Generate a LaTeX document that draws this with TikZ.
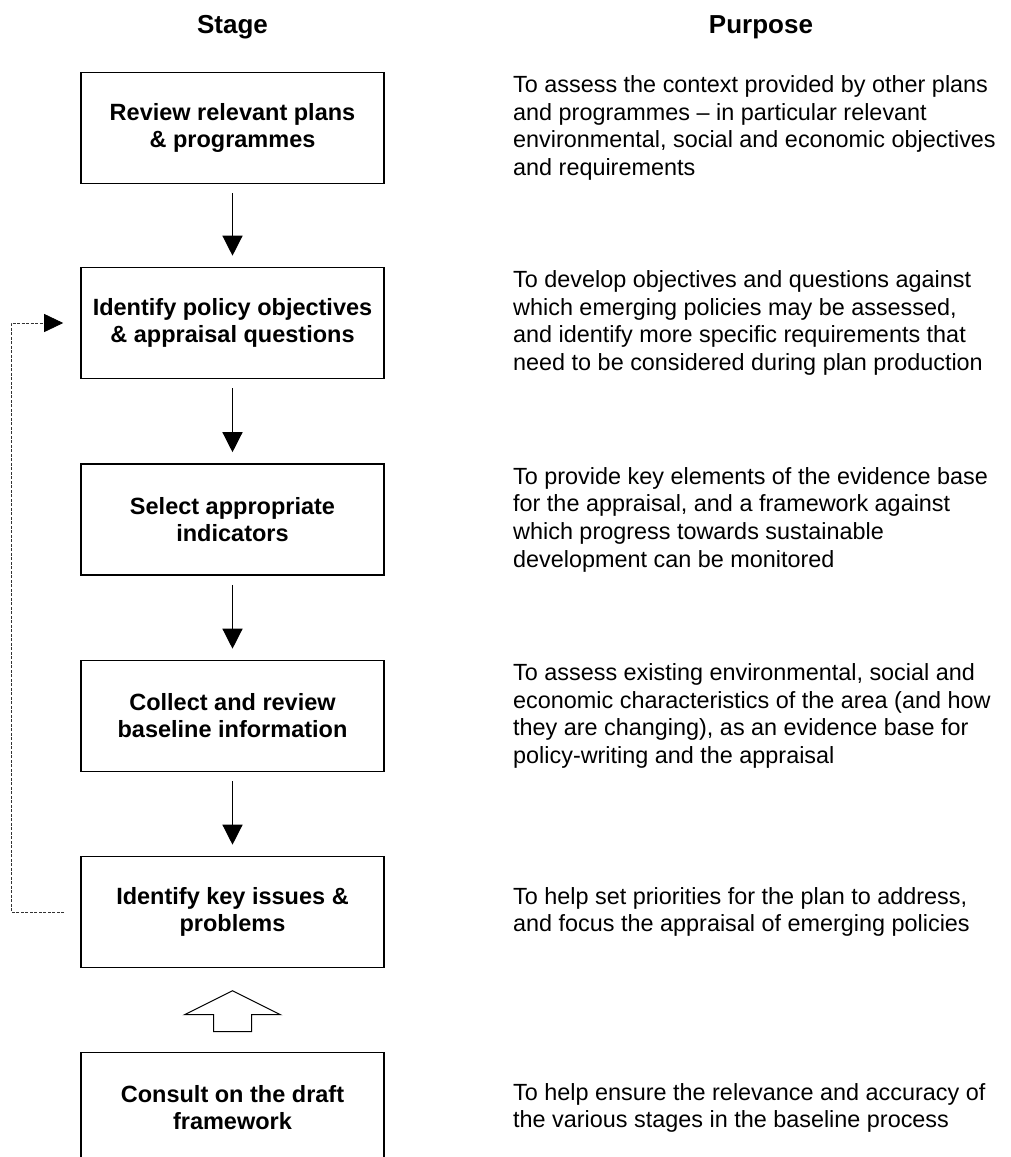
\documentclass[tikz,border=0pt]{standalone}
\usepackage{fontspec}
\setmainfont{Liberation Sans}
\usetikzlibrary{arrows.meta}

\begin{document}
\begin{tikzpicture}[x=1pt,y=1pt]
  \tikzset{
    stagebox/.style={draw,line width=1.6pt,minimum width=303pt,minimum height=111pt,
      align=center,inner sep=0pt,font=\bfseries\fontsize{23.5}{27}\selectfont},
    purpose/.style={anchor=west,align=left,inner sep=0pt,font=\fontsize{23.4}{27.7}\selectfont},
    heading/.style={font=\bfseries\fontsize{26}{30}\selectfont},
    flowstep/.style={-{Triangle[width=20pt,length=20pt]},line width=1.3pt,shorten <=9pt,shorten >=11pt},
    feedback/.style={-{Triangle[width=18pt,length=19pt,color=black]},line width=0.8pt,
      dash pattern=on 3pt off 1.5pt,black!80},
    openarrow/.style={line width=1pt,line join=miter},
  }
  \useasboundingbox (0,0) rectangle (1010,-1157);
  % column headings
  \node[heading] (stagehead)   at (232.5,-27) {Stage};
  \node[heading] (purposehead) at (761,-27)   {Purpose};
  % stages
  \node[stagebox] (review)     at (232.5,-128)  {Review relevant plans\\\& programmes};
  \node[stagebox] (objectives) at (232.5,-323)  {Identify policy objectives\\\& appraisal questions};
  \node[stagebox] (indicators) at (232.5,-519.5){Select appropriate\\indicators};
  \node[stagebox] (baseline)   at (232.5,-716)  {Collect and review\\baseline information};
  \node[stagebox] (issues)     at (232.5,-912)  {Identify key issues \&\\problems};
  \node[stagebox] (consult)    at (232.5,-1108) {Consult on the draft\\framework};
  % purposes
  \node[purpose] (p1) at (513,-128)   {To assess the context provided by other plans\\and programmes -- in particular relevant\\environmental, social and economic objectives\\and requirements};
  \node[purpose] (p2) at (513,-323)   {To develop objectives and questions against\\which emerging policies may be assessed,\\and identify more specific requirements that\\need to be considered during plan production};
  \node[purpose] (p3) at (513,-519.5) {To provide key elements of the evidence base\\for the appraisal, and a framework against\\which progress towards sustainable\\development can be monitored};
  \node[purpose] (p4) at (513,-716)   {To assess existing environmental, social and\\economic characteristics of the area (and how\\they are changing), as an evidence base for\\policy-writing and the appraisal};
  \node[purpose] (p5) at (513,-912)   {To help set priorities for the plan to address,\\and focus the appraisal of emerging policies};
  \node[purpose] (p6) at (513,-1108)  {To help ensure the relevance and accuracy of\\the various stages in the baseline process};
  % flow
  \draw[flowstep] (review)     edge (objectives);
  \draw[flowstep] (objectives) edge (indicators);
  \draw[flowstep] (indicators) edge (baseline);
  \draw[flowstep] (baseline)   edge (issues);
  \draw[feedback] ([xshift=-16pt]issues.west) -- ++(-53pt,0) |- ([xshift=-17pt]objectives.west);
  % consultation feeds back up
  \draw[openarrow] ([yshift=20pt]consult.north) ++(-19pt,0) -- ++(0,17pt) -- ++(-29pt,0)
    -- ++(48pt,24pt) -- ++(48pt,-24pt) -- ++(-29pt,0) -- ++(0,-17pt) -- cycle;
\end{tikzpicture}
\end{document}
